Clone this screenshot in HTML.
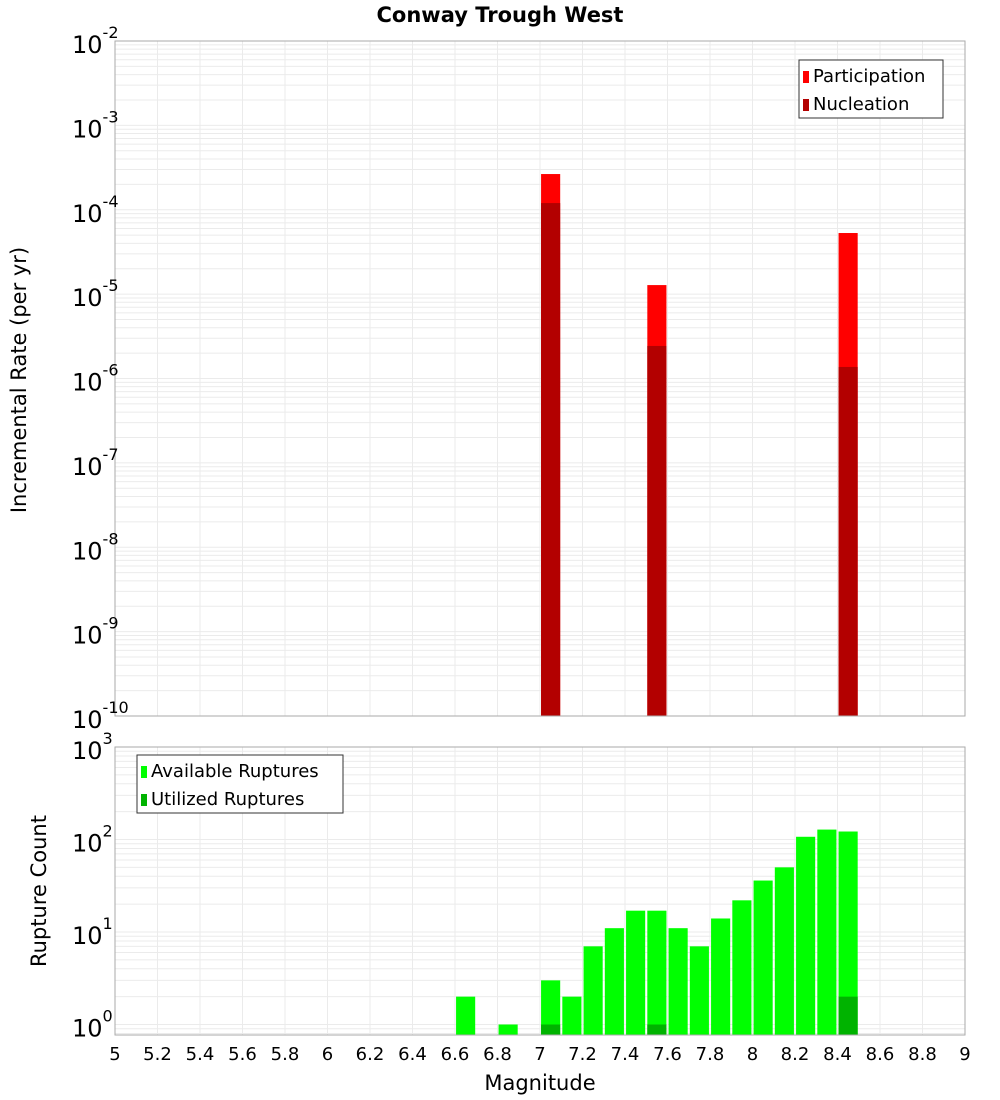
<!DOCTYPE html>
<html><head><meta charset="utf-8"><style>
body{margin:0;background:#fff;}
svg{display:block;font-family:"DejaVu Sans","Liberation Sans",sans-serif;}
</style></head><body>
<svg id="chart" width="1000" height="1100" xmlns="http://www.w3.org/2000/svg"></svg>
<script>
const xTicks=[5,5.2,5.4,5.6,5.8,6,6.2,6.4,6.6,6.8,7,7.2,7.4,7.6,7.8,8,8.2,8.4,8.6,8.8,9];
const topExps=[-10,-9,-8,-7,-6,-5,-4,-3,-2];
const botExps=[0,1,2,3];
const rateMags=[7.05,7.55,8.45];
const participation=[2.65e-4,1.28e-5,5.3e-5];
const nucleation=[1.2e-4,2.43e-6,1.37e-6];
const countMags=[6.65,6.85,7.05,7.15,7.25,7.35,7.45,7.55,7.65,7.75,7.85,7.95,8.05,8.15,8.25,8.35,8.45];
const available=[2,1,3,2,7,11,17,17,11,7,14,22,36,50,107,128,122];
const utilMags=[7.05,7.55,8.45];
const utilized=[1,1,2];

const svg=document.getElementById('chart');
const NS='http://www.w3.org/2000/svg';
function mk(tag,attrs,parent){const e=document.createElementNS(NS,tag);for(const k in attrs)e.setAttribute(k,attrs[k]);(parent||svg).appendChild(e);return e;}
const L=115,R=965;
const X=m=>L+(m-5)/4*(R-L);
const T1=41,B1=716; const Ytop=v=>T1+(-2-Math.log10(v))/8*(B1-T1);
const T2=747,B2=1035,DEC2=92.5; const Ybot=v=>T2+(3-Math.log10(v))*DEC2;

function grid(top,bot,yfn,exps,minV,maxV,name){
  const g=mk('g',{});
  
  for(let e=Math.floor(Math.log10(minV));e<=Math.log10(maxV);e++){
    for(let k=1;k<10;k++){const v=k*Math.pow(10,e);const y=yfn(v);if(y<top||y>bot)continue;
      mk('line',{x1:L,x2:R,y1:y,y2:y,stroke:'#ebebeb','stroke-width':1},g);}
  }
  xTicks.forEach(t=>{const x=X(t);mk('line',{x1:x,x2:x,y1:top,y2:bot,stroke:'#ebebeb','stroke-width':1},g);});
}
grid(T1,B1,Ytop,topExps,1e-10,1e-2,'top');
grid(T2,B2,Ybot,botExps,0.7,1000,'bottom');

const bw=(X(5.1)-X(5))*0.9;
rateMags.forEach((m,i)=>{
  const r=mk('rect',{x:X(m)-bw/2,y:Ytop(participation[i]),width:bw,height:B1-Ytop(participation[i]),fill:'#ff0000'});
  
  const n=mk('rect',{x:X(m)-bw/2,y:Ytop(nucleation[i]),width:bw,height:B1-Ytop(nucleation[i]),fill:'#b30000'});
  
});
countMags.forEach((m,i)=>{
  const y=Math.max(T2,Ybot(available[i]));
  const r=mk('rect',{x:X(m)-bw/2,y:y,width:bw,height:B2-y,fill:'#00ff00'});
  
});
utilMags.forEach((m,i)=>{
  const y=Ybot(utilized[i]);
  const r=mk('rect',{x:X(m)-bw/2,y:y,width:bw,height:B2-y,fill:'#00b300'});
  
});
mk('rect',{x:L,y:T1,width:R-L,height:B1-T1,fill:'none',stroke:'#aaa'});
mk('rect',{x:L,y:T2,width:R-L,height:B2-T2,fill:'none',stroke:'#aaa'});

function ylab(exps,yfn,pfx){exps.forEach(e=>{
  const t=mk('text',{x:105,y:yfn(Math.pow(10,e))+12,'text-anchor':'end','font-size':24,fill:'#000'});
  
  t.textContent='10';
  const s=mk('tspan',{dy:-15,'font-size':16});s.textContent=String(e);t.appendChild(s);
  t.setAttribute('x',72);t.setAttribute('text-anchor','start');
});}
ylab(topExps,Ytop,'top-y');ylab(botExps,Ybot,'bottom-y');
xTicks.forEach(v=>{const t=mk('text',{x:X(v),y:1060,'text-anchor':'middle','font-size':18});
  
  t.textContent=String(v);});

let t=mk('text',{x:500,y:22,'text-anchor':'middle','font-size':21,'font-weight':'bold'});
t.textContent='Conway Trough West';
t=mk('text',{x:540,y:1090,'text-anchor':'middle','font-size':21});
t.textContent='Magnitude';
t=mk('text',{x:0,y:0,'text-anchor':'middle','font-size':21,transform:'translate(26,380) rotate(-90)'});
t.textContent='Incremental Rate (per yr)';
t=mk('text',{x:0,y:0,'text-anchor':'middle','font-size':21,transform:'translate(46,891) rotate(-90)'});
t.textContent='Rupture Count';

function legend(x,y,w,items,name){
  const g=mk('g',{});
  mk('rect',{x:x,y:y,width:w,height:58,fill:'#fff',stroke:'#333'},g);
  items.forEach((it,i)=>{
    mk('rect',{x:x+4,y:y+11+i*28,width:6,height:12,fill:it[1]},g);
    const tt=mk('text',{x:x+14,y:y+22+i*28,'font-size':18},g);tt.textContent=it[0];
  });
}
legend(799,60,144,[['Participation','#ff0000'],['Nucleation','#b30000']],'rate-legend');
legend(137,755,206,[['Available Ruptures','#00ff00'],['Utilized Ruptures','#00b300']],'count-legend');
</script>
</body></html>
